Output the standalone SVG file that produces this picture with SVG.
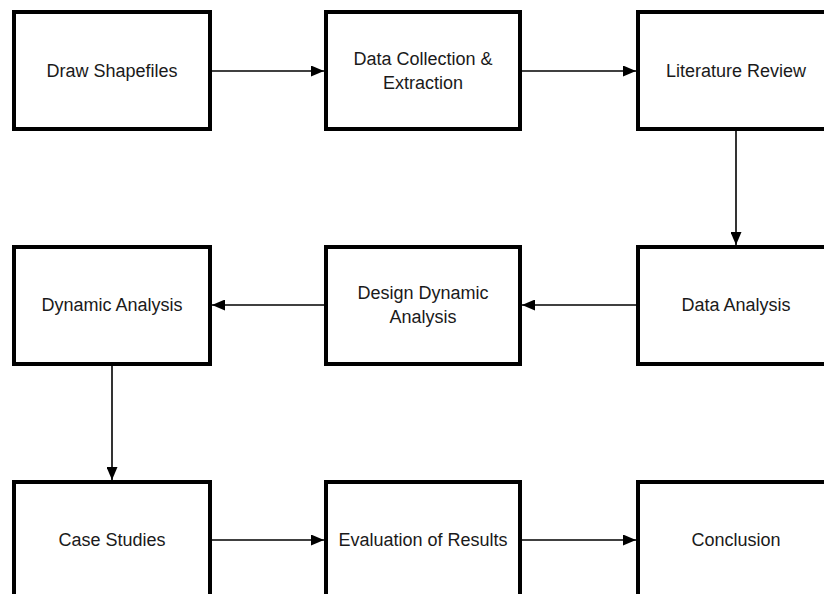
<svg xmlns="http://www.w3.org/2000/svg" width="824" height="594" viewBox="0 0 824 594">
<style>
.box{fill:#ffffff;stroke:#000000;stroke-width:4}
.lbl{font-family:"Liberation Sans",Arial,sans-serif;font-size:18px;fill:#1a1a1a;text-anchor:middle}
.edge{stroke:#000000;stroke-width:1.6;fill:none;marker-end:url(#ah)}
</style>
<defs>
<marker id="ah" viewBox="0 0 13 11" refX="13" refY="5.5" markerWidth="13" markerHeight="11" markerUnits="userSpaceOnUse" orient="auto">
<path d="M0,0 L13,5.5 L0,11 Z" fill="#000"/>
</marker>
</defs>
<g id="connectors">
<line class="edge" x1="212" y1="71" x2="324" y2="71"/>
<line class="edge" x1="522" y1="71" x2="636" y2="71"/>
<line class="edge" x1="736" y1="130" x2="736" y2="245"/>
<line class="edge" x1="636" y1="305" x2="522" y2="305"/>
<line class="edge" x1="324" y1="305" x2="212" y2="305"/>
<line class="edge" x1="112" y1="366" x2="112" y2="480"/>
<line class="edge" x1="212" y1="540" x2="324" y2="540"/>
<line class="edge" x1="522" y1="540" x2="636" y2="540"/>
</g>
<g id="n1"><rect class="box" x="14" y="12" width="196" height="117"/><text class="lbl" x="112" y="77">Draw Shapefiles</text></g>
<g id="n2"><rect class="box" x="326" y="12" width="194" height="117"/><text class="lbl" x="423" y="65">Data Collection &amp;</text><text class="lbl" x="423" y="89">Extraction</text></g>
<g id="n3"><rect class="box" x="638" y="12" width="200" height="117"/><text class="lbl" x="736" y="77">Literature Review</text></g>
<g id="n4"><rect class="box" x="14" y="247" width="196" height="117"/><text class="lbl" x="112" y="311">Dynamic Analysis</text></g>
<g id="n5"><rect class="box" x="326" y="247" width="194" height="117"/><text class="lbl" x="423" y="299">Design Dynamic</text><text class="lbl" x="423" y="323">Analysis</text></g>
<g id="n6"><rect class="box" x="638" y="247" width="200" height="117"/><text class="lbl" x="736" y="311">Data Analysis</text></g>
<g id="n7"><rect class="box" x="14" y="482" width="196" height="130"/><text class="lbl" x="112" y="546">Case Studies</text></g>
<g id="n8"><rect class="box" x="326" y="482" width="194" height="130"/><text class="lbl" x="423" y="546">Evaluation of Results</text></g>
<g id="n9"><rect class="box" x="638" y="482" width="200" height="130"/><text class="lbl" x="736" y="546">Conclusion</text></g>
</svg>
